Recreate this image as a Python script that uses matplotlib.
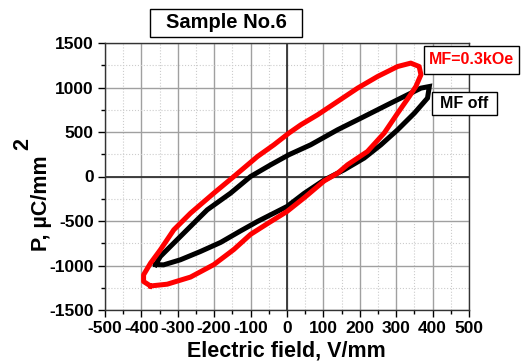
import numpy as np
import matplotlib.pyplot as plt
from matplotlib.patches import Rectangle
from matplotlib.ticker import MultipleLocator

plt.rcParams['font.family'] = ['Liberation Sans', 'DejaVu Sans']
plt.rcParams['font.weight'] = 'bold'
plt.rcParams['axes.unicode_minus'] = False

# MF = 0.3 kOe loop (field V/mm, polarization uC/mm^2)
red_E = [-375, -394, -394, -375, -348, -311, -265, -201, -146, -81, -36, 5, 38, 84,
         139, 194, 249, 304, 340, 363, 368, 354, 336, 304, 267, 221, 166, 140, 102,
         50, 0, -50, -100, -146, -201, -265, -329, -375]
red_P = [-1230, -1180, -1105, -974, -824, -599, -412, -187, 0, 225, 356, 487, 581, 693,
         843, 993, 1124, 1236, 1274, 1236, 1143, 1011, 899, 712, 488, 281, 131, 40, -50,
         -230, -393, -520, -650, -820, -990, -1130, -1210, -1230]

# MF off loop
blk_E = [-361, -348, -302, -247, -219, -155, -100, -45, 5, 65, 139, 212, 276, 331,
         368, 391, 386, 350, 304, 258, 212, 157, 102, 47, 0, -81, -127, -182, -238,
         -293, -339, -361]
blk_P = [-990, -899, -711, -487, -374, -187, 0, 131, 244, 356, 525, 674, 806, 918,
         993, 1011, 881, 712, 525, 356, 207, 75, -40, -190, -337, -505, -610, -740,
         -843, -936, -993, -990]

W, H = 525, 361
fig = plt.figure(figsize=(W / 100, H / 100), dpi=100)
ax = fig.add_axes([105 / W, 1 - 310 / H, (469 - 105) / W, (310 - 43) / H])

ax.set_xlim(-500, 500)
ax.set_ylim(-1500, 1500)
ax.xaxis.set_major_locator(MultipleLocator(100))
ax.xaxis.set_minor_locator(MultipleLocator(50))
ax.yaxis.set_major_locator(MultipleLocator(500))
ax.yaxis.set_minor_locator(MultipleLocator(250))
ax.grid(which='major', color='#a0a0a0', lw=1.0, ls='-')
ax.grid(which='minor', color='#cccccc', lw=0.8, ls=':')
ax.axhline(0, color='#333333', lw=1.3, zorder=1.5)
ax.axvline(0, color='#333333', lw=1.3, zorder=1.5)
ax.set_axisbelow(True)

ax.plot(blk_E, blk_P, color='black', lw=3.6, solid_joinstyle='miter', zorder=3)
ax.plot(red_E, red_P, color='#ff0000', lw=3.6, solid_joinstyle='round', zorder=3)

ax.tick_params(which='major', direction='out', length=5, width=1, labelsize=12.5,
               top=False, right=False, pad=3)
ax.tick_params(which='minor', direction='out', length=3, width=1, top=False, right=False)
for lbl in ax.get_xticklabels() + ax.get_yticklabels():
    lbl.set_fontweight('bold')
for s in ax.spines.values():
    s.set_color('#333333')
    s.set_linewidth(1.0)


def px_box(x0, y0, x1, y1):
    fig.patches.append(Rectangle((x0 / W, 1 - y1 / H), (x1 - x0) / W, (y1 - y0) / H,
                                 transform=fig.transFigure, facecolor='white',
                                 edgecolor='black', lw=1.0, zorder=5))


def px_text(x, y, s, **kw):
    fig.text(x / W, 1 - y / H, s, ha='center', va='center', fontweight='bold',
             zorder=6, **kw)


px_box(150, 9, 302, 37)
px_text(226, 23, 'Sample No.6', fontsize=14.5)

px_box(424, 46, 519, 74)
px_text(471, 60, 'MF=0.3kOe', fontsize=11.5, color='#ff0000')

px_box(432, 92, 497, 115)
px_text(464, 104, 'MF off', fontsize=11.5, color='black')

px_text(286, 351, 'Electric field, V/mm', fontsize=15.5)
px_text(42, 203, 'P, µC/mm', fontsize=15.5, rotation=90)
px_text(23, 144, '2', fontsize=15.5, rotation=90)

fig.savefig('out.png', dpi=100)
